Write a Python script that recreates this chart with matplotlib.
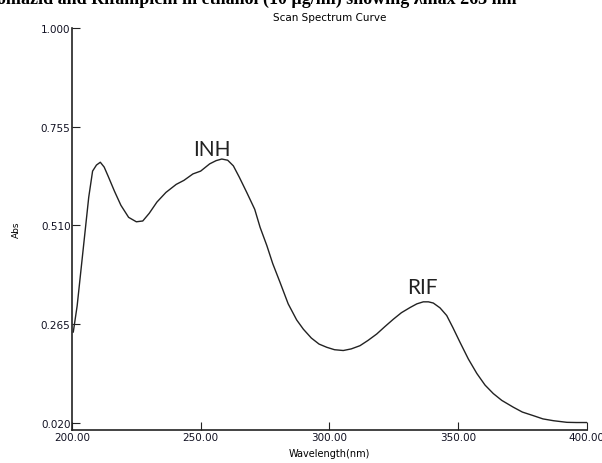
import matplotlib
matplotlib.use('Agg')
import matplotlib.pyplot as plt

# UV scan spectrum
wavelength = [200.5, 202.0, 203.5, 205.0, 206.5, 208.0, 209.5, 211.0, 212.5, 214.0,
              216.5, 219.0, 222.0, 225.0, 227.5, 230.0, 233.0, 236.5, 240.5, 243.5,
              247.0, 250.0, 253.5, 256.0, 258.2, 260.5, 262.7, 265.0, 267.9, 271.0,
              273.1, 275.7, 278.0, 280.8, 284.0, 287.3, 289.9, 293.0, 296.0, 299.0,
              302.0, 305.4, 308.5, 311.9, 315.0, 318.4, 321.5, 324.9, 328.0, 331.4,
              334.0, 336.5, 338.5, 340.4, 343.0, 345.6, 348.0, 350.8, 354.0, 357.3,
              360.5, 363.7, 367.0, 371.5, 375.0, 379.3, 383.0, 387.1, 392.3, 396.0,
              400.0]
absorbance = [0.245, 0.310, 0.400, 0.490, 0.580, 0.645, 0.660, 0.667, 0.655, 0.633,
              0.595, 0.560, 0.530, 0.519, 0.521, 0.540, 0.568, 0.592, 0.612, 0.622,
              0.638, 0.645, 0.663, 0.671, 0.675, 0.672, 0.658, 0.630, 0.592, 0.550,
              0.505, 0.460, 0.415, 0.369, 0.315, 0.275, 0.252, 0.230, 0.215, 0.207,
              0.201, 0.199, 0.203, 0.211, 0.224, 0.240, 0.258, 0.277, 0.293, 0.306,
              0.315, 0.320, 0.320, 0.317, 0.305, 0.286, 0.256, 0.219, 0.178, 0.142,
              0.113, 0.092, 0.075, 0.058, 0.046, 0.037, 0.029, 0.0245, 0.0205, 0.020,
              0.020]

xticks = [200, 250, 300, 350, 400]
xtick_labels = ["200.00", "250.00", "300.00", "350.00", "400.00"]
yticks = [0.020, 0.265, 0.510, 0.755, 1.000]
ytick_labels = ["0.020", "0.265", "0.510", "0.755", "1.000"]

peak_labels = ["INH", "RIF"]
peak_pos = [(254.3, 0.700), (336.3, 0.356)]

fig = plt.figure(figsize=(6.02, 4.64), dpi=100)
ax = fig.add_axes([0.1196, 0.0711, 0.855, 0.8658])

ax.plot(wavelength, absorbance, color='#222222', linewidth=1.0)

ax.set_xlim(200, 400)
ax.set_ylim(0.0014, 1.0)
ax.set_xticks(xticks)
ax.set_xticklabels(xtick_labels)
ax.set_yticks(yticks)
ax.set_yticklabels(ytick_labels)
ax.tick_params(direction='in', length=5.5, width=0.8, labelsize=7.5, pad=1.5,
               colors='#222222', labelcolor='#111122')
ax.tick_params(axis='y', pad=1)

for side in ['top', 'right']:
    ax.spines[side].set_visible(False)
for side in ['left', 'bottom']:
    ax.spines[side].set_linewidth(1.2)
    ax.spines[side].set_color('#222222')

for name, (x, y) in zip(peak_labels, peak_pos):
    ax.text(x, y, name, fontsize=15, family='Lato', color='#222222',
            ha='center', va='center')

ax.set_xlabel("Wavelength(nm)", fontsize=7, labelpad=4)
ax.set_ylabel("Abs", fontsize=6.5, labelpad=14)
ax.set_title("Scan Spectrum Curve", fontsize=7.5, pad=6)

# clipped caption line from the page above the figure
fig.text(-0.005, 1.002, "oniazid and Rifampicin in ethanol (10 \u00b5g/ml) showing \u03bbmax 263 nm",
         fontsize=13, family='Liberation Serif', weight='bold', ha='left', va='center')

fig.savefig("out.png", dpi=100)
